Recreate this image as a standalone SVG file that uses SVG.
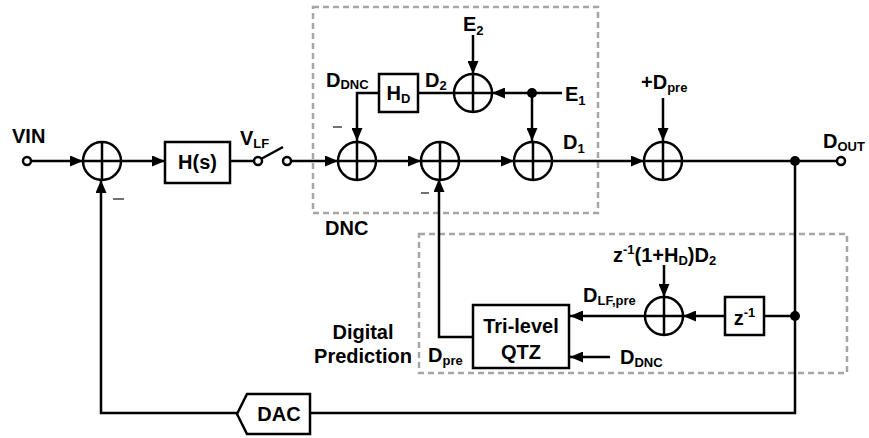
<svg xmlns="http://www.w3.org/2000/svg" width="869" height="438" viewBox="0 0 869 438">
<style>
text{font-family:"Liberation Sans",Arial,sans-serif;font-weight:bold;font-size:20px;fill:#000}
.sub{font-size:13px}
.ln{fill:none;stroke:#000;stroke-width:2.5}
.arr{marker-end:url(#ah)}
.box{fill:#fff;stroke:#000;stroke-width:2.5}
.sum{fill:#fff;stroke:#000;stroke-width:2.5}
.dash{fill:none;stroke:#a6a6a6;stroke-width:2.5;stroke-dasharray:6 4}
.dot{fill:#000}
.oc{fill:#fff;stroke:#000;stroke-width:2.5}
.minus{fill:none;stroke:#444;stroke-width:1.5}
</style>
<defs>
<marker id="ah" markerUnits="userSpaceOnUse" markerWidth="13" markerHeight="11" refX="13" refY="5.5" orient="auto">
<path d="M0,0 L13,5.5 L0,11 z" fill="#000"/>
</marker>
<g id="plus"><circle r="19" class="sum"/><path d="M-19,0 H19 M0,-19 V19" stroke="#000" stroke-width="2.5"/></g>
</defs>
<rect x="313" y="7" width="285" height="206" class="dash"/>
<rect x="419" y="234" width="428" height="139" class="dash"/>
<g id="connectors">
<path class="ln arr" d="M31,161 H83"/>
<path class="ln arr" d="M121,161 H165"/>
<path class="ln" d="M230,161 H254"/>
<path class="ln" d="M261,159 L283,147"/>
<path class="ln arr" d="M291,161 H338"/>
<path class="ln arr" d="M376,161 H421"/>
<path class="ln arr" d="M459,161 H514"/>
<path class="ln arr" d="M552,161 H644"/>
<path class="ln" d="M682,161 H837"/>
<path class="ln arr" d="M473,35 V74"/>
<path class="ln arr" d="M562,93 H492"/>
<path class="ln arr" d="M532,93 V141"/>
<path class="ln" d="M454,93 H418"/>
<path class="ln arr" d="M379,93 H357 V141"/>
<path class="ln arr" d="M663,98 V141"/>
<path class="ln" d="M795,161 V413 H310"/>
<path class="ln arr" d="M237,413 H101 V180"/>
<path class="ln" d="M795,316 H764"/>
<path class="ln arr" d="M725,316 H683"/>
<path class="ln arr" d="M664,265 V297"/>
<path class="ln arr" d="M645,316 H570"/>
<path class="ln arr" d="M610,357 H570"/>
<path class="ln arr" d="M473,337 H439 V179"/>
<path class="minus" d="M113,199 H124 M333,127 H342 M421,193 H429"/>
</g>
<g id="vin"><circle cx="27" cy="161" r="4" class="oc"/><text x="12" y="143">VIN</text></g>
<g id="sum1"><use href="#plus" x="102" y="161"/></g>
<g id="hs"><rect x="165" y="142" width="65" height="41" class="box"/><text x="197.5" y="169" text-anchor="middle">H(s)</text></g>
<g id="switch"><circle cx="258" cy="161" r="4" class="oc"/><circle cx="287" cy="161" r="4" class="oc"/><text x="240" y="145">V<tspan class="sub" dy="3">LF</tspan></text></g>
<g id="dnc">
<use href="#plus" x="357" y="161"/>
<use href="#plus" x="440" y="161"/>
<use href="#plus" x="533" y="161"/>
<use href="#plus" x="473" y="93"/>
<rect x="379" y="74" width="39" height="38" class="box"/>
<text x="398.5" y="100" text-anchor="middle">H<tspan class="sub" dy="3">D</tspan></text>
<text x="326" y="87">D<tspan class="sub" dy="2">DNC</tspan></text>
<text x="425" y="87">D<tspan class="sub" dy="3">2</tspan></text>
<text x="463" y="31">E<tspan class="sub" dy="4">2</tspan></text>
<text x="565" y="101">E<tspan class="sub" dy="4">1</tspan></text>
<text x="563" y="149">D<tspan class="sub" dy="4">1</tspan></text>
<circle cx="532" cy="93" r="5" class="dot"/>
<text x="325" y="235">DNC</text>
</g>
<g id="sum4"><use href="#plus" x="663" y="161"/><text x="641" y="89">+D<tspan class="sub" dy="3">pre</tspan></text></g>
<g id="dout"><circle cx="795" cy="161" r="5" class="dot"/><circle cx="841" cy="161" r="4" class="oc"/><text x="823" y="148">D<tspan class="sub" dy="3">OUT</tspan></text></g>
<g id="pred">
<circle cx="795" cy="316" r="5" class="dot"/>
<rect x="725" y="297" width="39" height="38" class="box"/>
<text x="744.5" y="325" text-anchor="middle">z<tspan class="sub" dy="-8">-1</tspan></text>
<use href="#plus" x="664" y="316"/>
<text x="613" y="262">z<tspan class="sub" dy="-8">-1</tspan><tspan dy="8">(1+H</tspan><tspan class="sub" dy="3">D</tspan><tspan dy="-3">)D</tspan><tspan class="sub" dy="3">2</tspan></text>
<text x="583" y="302">D<tspan class="sub" dy="3">LF,pre</tspan></text>
<rect x="473" y="305" width="96" height="63" class="box"/>
<text x="521" y="333" text-anchor="middle">Tri-level</text>
<text x="521" y="359" text-anchor="middle">QTZ</text>
<text x="620" y="364">D<tspan class="sub" dy="3">DNC</tspan></text>
<text x="428" y="362">D<tspan class="sub" dy="3">pre</tspan></text>
<text x="363" y="339" text-anchor="middle">Digital</text>
<text x="363" y="363" text-anchor="middle">Prediction</text>
</g>
<g id="dac"><path d="M237,414 L247,394 H310 V434 H247 Z" class="box"/><text x="279" y="421" text-anchor="middle">DAC</text></g>
</svg>
